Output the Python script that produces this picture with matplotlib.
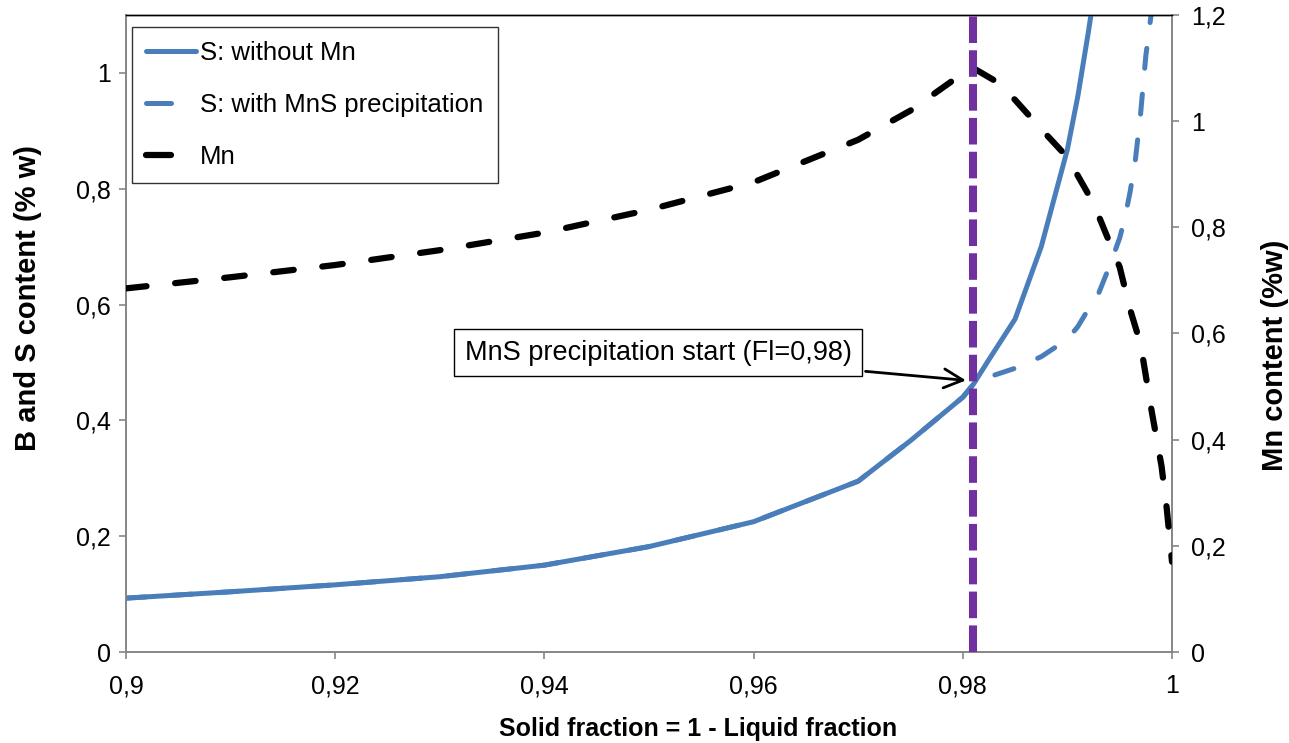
import matplotlib
matplotlib.use("Agg")
import matplotlib.pyplot as plt
from matplotlib.ticker import FuncFormatter

plt.rcParams['font.family'] = ['Liberation Sans', 'DejaVu Sans']

# ---------------- data ----------------
fs_s = [0.9, 0.91, 0.92, 0.93, 0.94, 0.95, 0.96, 0.97, 0.975, 0.98, 0.981,
        0.9825, 0.985, 0.9875, 0.99, 0.991, 0.992, 0.9925, 0.993]
s_without_mn = [0.093, 0.104, 0.116, 0.130, 0.150, 0.182, 0.225, 0.295, 0.365,
                0.440, 0.462, 0.505, 0.575, 0.700, 0.868, 0.960, 1.070, 1.130, 1.200]

fs_mns = [0.9, 0.91, 0.92, 0.93, 0.94, 0.95, 0.96, 0.97, 0.975, 0.98, 0.981,
          0.9825, 0.985, 0.9875, 0.99, 0.991, 0.992, 0.993, 0.994, 0.995,
          0.9955, 0.996, 0.9965, 0.997, 0.9975, 0.998, 0.9985]
s_with_mns = [0.093, 0.104, 0.116, 0.130, 0.150, 0.182, 0.225, 0.295, 0.365,
              0.440, 0.462, 0.475, 0.490, 0.510, 0.540, 0.562, 0.592, 0.620,
              0.665, 0.715, 0.750, 0.795, 0.850, 0.930, 1.030, 1.100, 1.200]

fs_mn = [0.9, 0.91, 0.92, 0.93, 0.94, 0.95, 0.96, 0.97, 0.975, 0.98, 0.981,
         0.983, 0.985, 0.9875, 0.99, 0.9925, 0.995, 0.996, 0.997, 0.998,
         0.999, 0.9995, 1.0]
mn = [0.685, 0.706, 0.729, 0.757, 0.790, 0.833, 0.885, 0.965, 1.020, 1.090,
      1.100, 1.077, 1.040, 0.985, 0.932, 0.845, 0.725, 0.645, 0.580, 0.460,
      0.350, 0.270, 0.170]

precip_start = 0.981

labels = ["S: without Mn", "S: with MnS precipitation", "Mn"]
annot_text = "MnS precipitation start (Fl=0,98)"

x_ticks = [0.9, 0.92, 0.94, 0.96, 0.98, 1.0]
y_ticks = [0, 0.2, 0.4, 0.6, 0.8, 1.0]
y2_ticks = [0, 0.2, 0.4, 0.6, 0.8, 1.0, 1.2]

# ---------------- figure ----------------
BLUE = "#4A7EBB"
PURPLE = "#7030A0"
GRAY = "#868686"

fig = plt.figure(figsize=(12.89, 7.43), dpi=100)
ax = fig.add_axes([126 / 1289, 1 - 652 / 743, (1172 - 126) / 1289, (652 - 15) / 743])
ax2 = ax.twinx()

l1, = ax.plot(fs_s, s_without_mn, color=BLUE, lw=3.6, solid_capstyle='round',
              solid_joinstyle='round', label=labels[0], zorder=3)
l2, = ax.plot(fs_mns, s_with_mns, color=BLUE, lw=3.6, dashes=(4.0, 5.2),
              dash_capstyle='round', label=labels[1], zorder=2)
l3, = ax2.plot(fs_mn, mn, color='black', lw=4.5, dashes=(3.3, 4.6),
               dash_capstyle='round', label=labels[2], zorder=3)
ax2.axvline(precip_start, color=PURPLE, lw=5.8, dashes=(3.3, 0.9), zorder=4)

ax.set_xlim(0.9, 1.0)
ax.set_ylim(0, 1.1)
ax2.set_ylim(0, 1.2)

fmt = FuncFormatter(lambda v, p: ("%g" % round(v, 4)).replace('.', ','))
ax.set_xticks(x_ticks)
ax.set_yticks(y_ticks)
ax2.set_yticks(y2_ticks)
ax.xaxis.set_major_formatter(fmt)
ax.yaxis.set_major_formatter(fmt)
ax2.yaxis.set_major_formatter(fmt)

for a in (ax, ax2):
    for side in ('left', 'right', 'bottom'):
        a.spines[side].set_color(GRAY)
        a.spines[side].set_linewidth(1.2)
    a.spines['top'].set_color('black')
    a.spines['top'].set_linewidth(1.0)
    a.tick_params(axis='both', direction='out', length=5, width=1.2, color=GRAY,
                  labelsize=18, labelcolor='black')
ax.tick_params(axis='y', pad=6)
ax.tick_params(axis='x', pad=11)
ax2.tick_params(axis='y', pad=9)

ax.set_xlabel("Solid fraction = 1 - Liquid fraction", fontsize=18,
              fontweight='bold')
ax.xaxis.set_label_coords((698 - 126) / 1046, (652 - 729) / 637)
ax.xaxis.label.set_va('center')
ax.set_ylabel("B and S content (% w)", fontsize=21, fontweight='bold')
ax.yaxis.set_label_coords((28 - 126) / 1046, (652 - 298) / 637)
ax.yaxis.label.set_va('center')
ax2.set_ylabel("Mn content (%w)", fontsize=21, fontweight='bold')
ax2.yaxis.set_label_coords((1275 - 126) / 1046, (652 - 355) / 637)
ax2.yaxis.label.set_va('center')

# annotation
ax.annotate(annot_text, xy=(0.9803, 0.469), xytext=(0.95086, 0.517),
            textcoords='data', fontsize=19.5, ha='center', va='center',
            bbox=dict(boxstyle='square,pad=0.4', fc='white', ec='black', lw=1.0),
            arrowprops=dict(arrowstyle='->,head_length=0.7,head_width=0.35',
                            color='black', lw=2.0, shrinkA=2, shrinkB=0),
            zorder=6)

leg = ax2.legend(handles=[l1, l2, l3], loc='upper left',
                 bbox_to_anchor=((132 - 126) / 1046, (652 - 27) / 637),
                 borderaxespad=0, fontsize=18.5, frameon=True, fancybox=False,
                 handlelength=1.95, handletextpad=0.16, labelspacing=1.08,
                 borderpad=0.55)
leg.get_frame().set_edgecolor('black')
leg.get_frame().set_linewidth(1.0)
leg.set_zorder(10)
leg_lines = leg.get_lines()
leg_lines[1].set_dashes((5.0, 12.0))
leg_lines[2].set_dashes((4.0, 12.0))

fig.savefig("out.png", dpi=100)
